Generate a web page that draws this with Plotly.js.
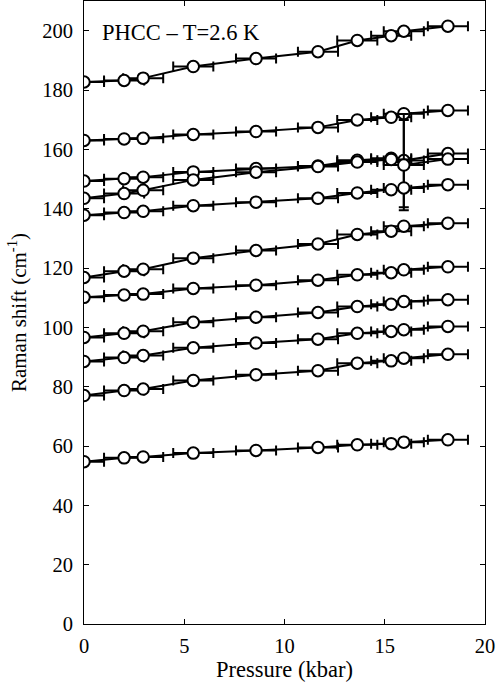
<!DOCTYPE html>
<html>
<head>
<meta charset="utf-8">
<script src="https://cdn.plot.ly/plotly-3.0.1.min.js"></script>
<style>html,body{margin:0;padding:0;background:#fff;}#chart{width:502px;height:688px;}</style>
</head>
<body>
<div id="chart"></div>
<script>
// Pressure (kbar) of each measurement
const pressure = [0, 2.0, 2.95, 5.45, 8.58, 11.67, 13.63, 15.32, 15.95, 18.15];
// horizontal (pressure) uncertainty, kbar
const pressureErr = [1, 1, 1, 1, 1, 1, 1, 1, 1, 1];

// Raman shift (cm^-1) of each mode vs pressure
const modeA = [182.7, 183.2, 184.0, 187.9, 190.6, 192.9, 196.7, 198.3, 199.8, 201.5];
const modeB = [163.0, 163.5, 163.7, 165.0, 166.0, 167.4, 169.9, 170.8, 172.0, 173.1];
const modeC = [149.3, 150.1, 150.6, 152.4, 153.5, 154.4, 156.3, 157.0, 156.2, 158.6];
const modeD = [143.5, 145.1, 146.2, 149.7, 152.3, 154.2, 155.7, 156.6, 154.7, 156.7];
const modeE = [137.8, 138.7, 139.1, 141.0, 142.2, 143.5, 145.3, 146.4, 147.0, 148.1];
const modeF = [116.8, 118.9, 119.6, 123.3, 125.9, 128.1, 131.3, 132.4, 134.1, 135.1];
const modeG = [110.1, 110.9, 111.2, 113.1, 114.2, 115.9, 117.7, 118.4, 119.4, 120.4];
const modeH = [96.6, 98.0, 98.7, 101.7, 103.4, 105.0, 107.0, 107.8, 108.7, 109.3];
const modeI = [88.5, 89.8, 90.5, 93.1, 94.7, 96.0, 98.0, 98.6, 99.2, 100.3];
const modeJ = [77.0, 78.7, 79.2, 82.1, 84.0, 85.4, 87.9, 88.7, 89.6, 90.9];
const modeK = [54.7, 56.0, 56.3, 57.6, 58.5, 59.5, 60.4, 60.8, 61.3, 62.1];

// vertical uncertainty (cm^-1); only the 16 kbar points of modes C and D carry one
const modeCErr = [0, 0, 0, 0, 0, 0, 0, 0, 15.7, 0];
const modeDErr = [0, 0, 0, 0, 0, 0, 0, 0, 15.2, 0];

const annotationText = 'PHCC – T=2.6 K';
const xTickVals = [0, 5, 10, 15, 20];
const yTickVals = [0, 20, 40, 60, 80, 100, 120, 140, 160, 180, 200];

const series = [
  {y: modeA}, {y: modeB}, {y: modeC, e: modeCErr}, {y: modeD, e: modeDErr},
  {y: modeE}, {y: modeF}, {y: modeG}, {y: modeH}, {y: modeI}, {y: modeJ}, {y: modeK}
];

const FONT = '"Liberation Serif", "DejaVu Serif", serif';

const traces = series.map(s => {
  const t = {
    x: pressure, y: s.y, type: 'scatter', mode: 'lines+markers',
    line: {color: '#000', width: 2},
    marker: {symbol: 'circle', size: 11.5, color: '#fff', line: {color: '#000', width: 2}},
    error_x: {type: 'data', array: pressureErr, symmetric: true, color: '#000', thickness: 2, width: 5},
    showlegend: false, cliponaxis: true, hoverinfo: 'x+y'
  };
  if (s.e) {
    t.error_y = {type: 'data', array: s.e, symmetric: true, color: '#000', thickness: 2, width: 5};
  }
  return t;
});

const layout = {
  width: 502, height: 688,
  margin: {l: 84, r: 17, t: 1, b: 64},
  paper_bgcolor: '#fff', plot_bgcolor: '#fff',
  font: {family: FONT, size: 20, color: '#000'},
  xaxis: {
    range: [0, 20], tickvals: xTickVals, ticks: 'inside', ticklen: 5, tickwidth: 1, tickcolor: '#000',
    showline: true, linecolor: '#000', linewidth: 1, mirror: 'ticks', showgrid: false, zeroline: false,
    tickfont: {family: FONT, size: 20.5}, ticklabelstandoff: 3,
    title: {text: 'Pressure (kbar)', font: {family: FONT, size: 22.5}, standoff: 2}
  },
  yaxis: {
    range: [0, 210], tickvals: yTickVals, ticks: 'inside', ticklen: 5, tickwidth: 1, tickcolor: '#000',
    showline: true, linecolor: '#000', linewidth: 1, mirror: 'ticks', showgrid: false, zeroline: false,
    tickfont: {family: FONT, size: 20.5}, ticklabelstandoff: 6,
    title: {text: 'Raman shift (cm<sup>-1</sup>)', font: {family: FONT, size: 21}, standoff: 9}
  },
  annotations: [{
    text: annotationText, xref: 'paper', yref: 'paper', x: 0.04, y: 0.95,
    xanchor: 'left', yanchor: 'middle', showarrow: false, font: {family: FONT, size: 22.5, color: '#000'}
  }]
};

Plotly.newPlot('chart', traces, layout, {displayModeBar: false, staticPlot: true});
</script>
</body>
</html>
